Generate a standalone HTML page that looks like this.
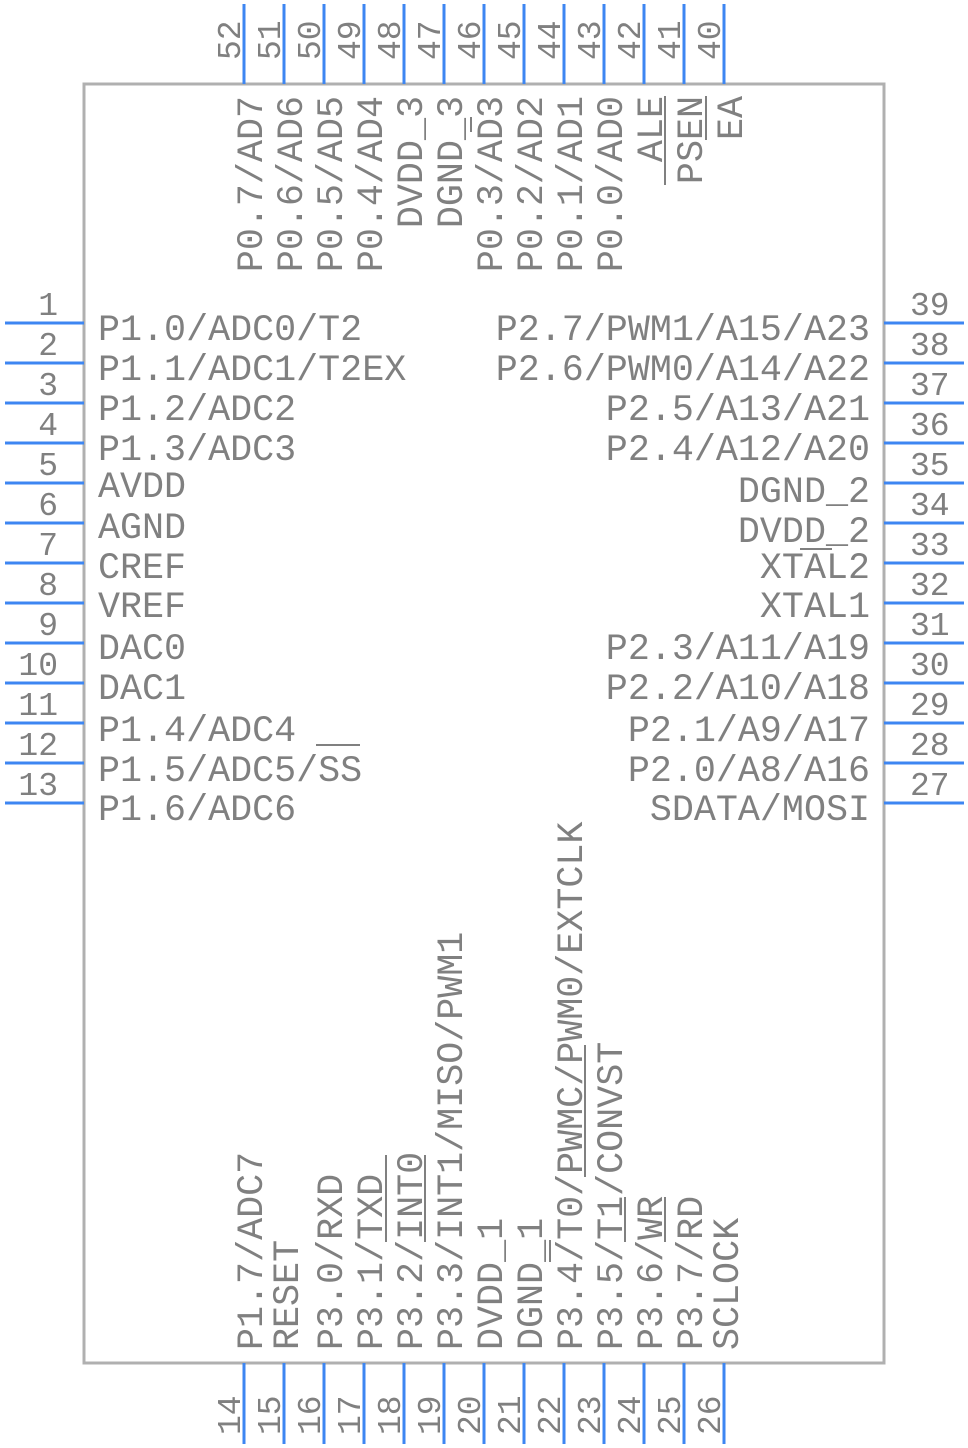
<!DOCTYPE html>
<html><head><meta charset="utf-8"><style>
html,body{margin:0;padding:0;background:#fff}
svg{display:block}
text{font-family:"Liberation Mono",monospace;fill:#808080}
.l{font-size:36.7px}
.n{font-size:33px}
</style></head><body>
<svg width="968" height="1448" viewBox="0 0 968 1448" xmlns="http://www.w3.org/2000/svg">
<rect x="84" y="84" width="800" height="1279" fill="#fff" stroke="#b0b0b0" stroke-width="3"/>
<g stroke="#3d86f2" stroke-width="3">
<line x1="5" y1="323" x2="84" y2="323"/><line x1="5" y1="363" x2="84" y2="363"/><line x1="5" y1="403" x2="84" y2="403"/><line x1="5" y1="443" x2="84" y2="443"/><line x1="5" y1="483" x2="84" y2="483"/><line x1="5" y1="523" x2="84" y2="523"/><line x1="5" y1="563" x2="84" y2="563"/><line x1="5" y1="603" x2="84" y2="603"/><line x1="5" y1="643" x2="84" y2="643"/><line x1="5" y1="683" x2="84" y2="683"/><line x1="5" y1="723" x2="84" y2="723"/><line x1="5" y1="763" x2="84" y2="763"/><line x1="5" y1="803" x2="84" y2="803"/>
<line x1="884" y1="323" x2="964" y2="323"/><line x1="884" y1="363" x2="964" y2="363"/><line x1="884" y1="403" x2="964" y2="403"/><line x1="884" y1="443" x2="964" y2="443"/><line x1="884" y1="483" x2="964" y2="483"/><line x1="884" y1="523" x2="964" y2="523"/><line x1="884" y1="563" x2="964" y2="563"/><line x1="884" y1="603" x2="964" y2="603"/><line x1="884" y1="643" x2="964" y2="643"/><line x1="884" y1="683" x2="964" y2="683"/><line x1="884" y1="723" x2="964" y2="723"/><line x1="884" y1="763" x2="964" y2="763"/><line x1="884" y1="803" x2="964" y2="803"/>
<line x1="244" y1="4" x2="244" y2="84"/><line x1="284" y1="4" x2="284" y2="84"/><line x1="324" y1="4" x2="324" y2="84"/><line x1="364" y1="4" x2="364" y2="84"/><line x1="404" y1="4" x2="404" y2="84"/><line x1="444" y1="4" x2="444" y2="84"/><line x1="484" y1="4" x2="484" y2="84"/><line x1="524" y1="4" x2="524" y2="84"/><line x1="564" y1="4" x2="564" y2="84"/><line x1="604" y1="4" x2="604" y2="84"/><line x1="644" y1="4" x2="644" y2="84"/><line x1="684" y1="4" x2="684" y2="84"/><line x1="724" y1="4" x2="724" y2="84"/>
<line x1="244" y1="1363" x2="244" y2="1444"/><line x1="284" y1="1363" x2="284" y2="1444"/><line x1="324" y1="1363" x2="324" y2="1444"/><line x1="364" y1="1363" x2="364" y2="1444"/><line x1="404" y1="1363" x2="404" y2="1444"/><line x1="444" y1="1363" x2="444" y2="1444"/><line x1="484" y1="1363" x2="484" y2="1444"/><line x1="524" y1="1363" x2="524" y2="1444"/><line x1="564" y1="1363" x2="564" y2="1444"/><line x1="604" y1="1363" x2="604" y2="1444"/><line x1="644" y1="1363" x2="644" y2="1444"/><line x1="684" y1="1363" x2="684" y2="1444"/><line x1="724" y1="1363" x2="724" y2="1444"/>
</g>
<g class="n" text-anchor="end">
<text x="58" y="315">1</text><text x="58" y="355">2</text><text x="58" y="395">3</text><text x="58" y="435">4</text><text x="58" y="475">5</text><text x="58" y="515">6</text><text x="58" y="555">7</text><text x="58" y="595">8</text><text x="58" y="635">9</text><text x="58" y="675">10</text><text x="58" y="715">11</text><text x="58" y="755">12</text><text x="58" y="795">13</text>
</g>
<g class="l">
<text x="98" y="340">P1.0/ADC0/T2</text><text x="98" y="380">P1.1/ADC1/T2EX</text><text x="98" y="420">P1.2/ADC2</text><text x="98" y="460">P1.3/ADC3</text><text x="98" y="497">AVDD</text><text x="98" y="538">AGND</text><text x="98" y="578">CREF</text><text x="98" y="617">VREF</text><text x="98" y="659">DAC0</text><text x="98" y="699">DAC1</text><text x="98" y="741">P1.4/ADC4</text><text x="98" y="781">P1.5/ADC5/SS</text><text x="98" y="820">P1.6/ADC6</text>
</g>
<g class="n">
<text x="910" y="315">39</text><text x="910" y="355">38</text><text x="910" y="395">37</text><text x="910" y="435">36</text><text x="910" y="475">35</text><text x="910" y="515">34</text><text x="910" y="555">33</text><text x="910" y="595">32</text><text x="910" y="635">31</text><text x="910" y="675">30</text><text x="910" y="715">29</text><text x="910" y="755">28</text><text x="910" y="795">27</text>
</g>
<g class="l" text-anchor="end">
<text x="870" y="340">P2.7/PWM1/A15/A23</text><text x="870" y="380">P2.6/PWM0/A14/A22</text><text x="870" y="420">P2.5/A13/A21</text><text x="870" y="460">P2.4/A12/A20</text><text x="870" y="502">DGND_2</text><text x="870" y="542">DVDD_2</text><text x="870" y="578">XTAL2</text><text x="870" y="617">XTAL1</text><text x="870" y="659">P2.3/A11/A19</text><text x="870" y="699">P2.2/A10/A18</text><text x="870" y="741">P2.1/A9/A17</text><text x="870" y="781">P2.0/A8/A16</text><text x="870" y="820">SDATA/MOSI</text>
</g>
<g class="n">
<text transform="translate(240,60) rotate(-90)">52</text><text transform="translate(280,60) rotate(-90)">51</text><text transform="translate(320,60) rotate(-90)">50</text><text transform="translate(360,60) rotate(-90)">49</text><text transform="translate(400,60) rotate(-90)">48</text><text transform="translate(440,60) rotate(-90)">47</text><text transform="translate(480,60) rotate(-90)">46</text><text transform="translate(520,60) rotate(-90)">45</text><text transform="translate(560,60) rotate(-90)">44</text><text transform="translate(600,60) rotate(-90)">43</text><text transform="translate(640,60) rotate(-90)">42</text><text transform="translate(680,60) rotate(-90)">41</text><text transform="translate(720,60) rotate(-90)">40</text>
</g>
<g class="l" text-anchor="end">
<text transform="translate(262,96) rotate(-90)">P0.7/AD7</text><text transform="translate(302,96) rotate(-90)">P0.6/AD6</text><text transform="translate(342,96) rotate(-90)">P0.5/AD5</text><text transform="translate(382,96) rotate(-90)">P0.4/AD4</text><text transform="translate(422,96) rotate(-90)">DVDD_3</text><text transform="translate(462,96) rotate(-90)">DGND_3</text><text transform="translate(502,96) rotate(-90)">P0.3/AD3</text><text transform="translate(542,96) rotate(-90)">P0.2/AD2</text><text transform="translate(582,96) rotate(-90)">P0.1/AD1</text><text transform="translate(622,96) rotate(-90)">P0.0/AD0</text><text transform="translate(662,96) rotate(-90)">ALE</text><text transform="translate(702,96) rotate(-90)">PSEN</text><text transform="translate(742,96) rotate(-90)">EA</text>
</g>
<g class="n">
<text transform="translate(240,1435) rotate(-90)">14</text><text transform="translate(280,1435) rotate(-90)">15</text><text transform="translate(320,1435) rotate(-90)">16</text><text transform="translate(360,1435) rotate(-90)">17</text><text transform="translate(400,1435) rotate(-90)">18</text><text transform="translate(440,1435) rotate(-90)">19</text><text transform="translate(480,1435) rotate(-90)">20</text><text transform="translate(520,1435) rotate(-90)">21</text><text transform="translate(560,1435) rotate(-90)">22</text><text transform="translate(600,1435) rotate(-90)">23</text><text transform="translate(640,1435) rotate(-90)">24</text><text transform="translate(680,1435) rotate(-90)">25</text><text transform="translate(720,1435) rotate(-90)">26</text>
</g>
<g class="l">
<text transform="translate(262,1350) rotate(-90)">P1.7/ADC7</text><text transform="translate(298,1350) rotate(-90)">RESET</text><text transform="translate(342,1350) rotate(-90)">P3.0/RXD</text><text transform="translate(382,1350) rotate(-90)">P3.1/TXD</text><text transform="translate(422,1350) rotate(-90)">P3.2/INT0</text><text transform="translate(462,1350) rotate(-90)">P3.3/INT1/MISO/PWM1</text><text transform="translate(502,1350) rotate(-90)">DVDD_1</text><text transform="translate(542,1350) rotate(-90)">DGND_1</text><text transform="translate(582,1350) rotate(-90)">P3.4/T0/PWMC/PWM0/EXTCLK</text><text transform="translate(622,1350) rotate(-90)">P3.5/T1/CONVST</text><text transform="translate(662,1350) rotate(-90)">P3.6/WR</text><text transform="translate(702,1350) rotate(-90)">P3.7/RD</text><text transform="translate(738,1350) rotate(-90)">SCLOCK</text>
</g>
<g stroke="#808080" stroke-width="2">
<line x1="316" y1="745" x2="360" y2="745"/>
<line x1="800" y1="549" x2="832" y2="549"/>
<line x1="665" y1="96" x2="665" y2="185"/>
<line x1="706" y1="96" x2="706" y2="140"/>
<line x1="471" y1="117" x2="471" y2="132"/>
<line x1="386" y1="1155" x2="386" y2="1242"/>
<line x1="425" y1="1155" x2="425" y2="1242"/>
<line x1="550" y1="1240" x2="550" y2="1262"/>
<line x1="585" y1="1045" x2="585" y2="1177"/>
<line x1="625" y1="1197" x2="625" y2="1242"/>
<line x1="665" y1="1197" x2="665" y2="1242"/>
</g>
</svg>
</body></html>
